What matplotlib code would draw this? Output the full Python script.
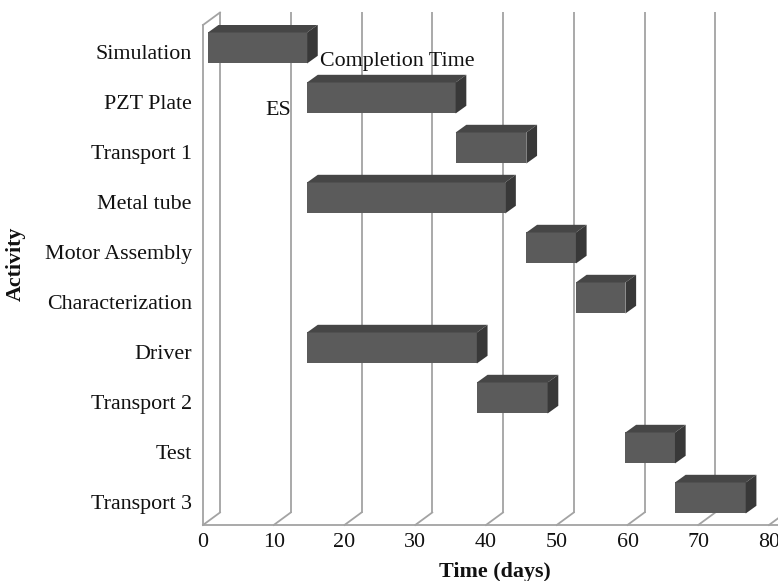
import matplotlib
matplotlib.use("Agg")
import matplotlib.pyplot as plt
from matplotlib.patches import Polygon

plt.rcParams['font.family'] = ['Liberation Serif', 'DejaVu Serif']

# Activities (top to bottom) with start and finish times in days
activities = ["Simulation", "PZT Plate", "Transport 1", "Metal tube", "Motor Assembly",
              "Characterization", "Driver", "Transport 2", "Test", "Transport 3"]
start_days = [0, 14, 35, 14, 45, 52, 14, 38, 59, 66]
finish_days = [14, 35, 45, 42, 52, 59, 38, 48, 66, 76]
x_ticks = [0, 10, 20, 30, 40, 50, 60, 70, 80]

FIG_W, FIG_H, DPI = 778, 581, 100
FS = 15.8
fig = plt.figure(figsize=(FIG_W / DPI, FIG_H / DPI), dpi=DPI)
ax_left, ax_bottom, ax_w, ax_h = 203, 56, 566, 500
ax = fig.add_axes([ax_left / FIG_W, ax_bottom / FIG_H, ax_w / FIG_W, ax_h / FIG_H])

XMIN, XMAX = 0, 80
YBOT, YTOP = 9.46, -0.54
ax.set_xlim(XMIN, XMAX)
ax.set_ylim(YBOT, YTOP)
for s in ax.spines.values():
    s.set_visible(False)

# pixel -> data unit conversion for the pseudo-3D depth offsets
px_x = ax_w / (XMAX - XMIN)
px_y = ax_h / (YBOT - YTOP)


def depth(dx_px, dy_px):
    return dx_px / px_x, -dy_px / px_y


grid_c = "#a3a3a3"
grid_lw = 1.3

# back wall depth
bdx, bdy = depth(17, 12.5)

# back-plane vertical gridlines and the slanted floor lines
for v in x_ticks:
    ax.plot([v + bdx, v + bdx], [YBOT + bdy, YTOP + bdy], color=grid_c, lw=grid_lw,
            clip_on=False, zorder=1, solid_capstyle='butt')
    ax.plot([v, v + bdx], [YBOT, YBOT + bdy], color=grid_c, lw=grid_lw,
            clip_on=False, zorder=1)

# left side wall (front edge + top edge)
ax.plot([XMIN, XMIN], [YBOT, YTOP], color=grid_c, lw=grid_lw, clip_on=False, zorder=1)
ax.plot([XMIN, XMIN + bdx], [YTOP, YTOP + bdy], color=grid_c, lw=grid_lw,
        clip_on=False, zorder=1)
# floor front edge
ax.plot([XMIN, XMAX + 2], [YBOT, YBOT], color=grid_c, lw=grid_lw, clip_on=False, zorder=1)

# 3D bars
fdx, fdy = depth(5, 4)        # front face position inside the box
ddx, ddy = depth(10.7, 7.7)   # bar depth
bar_h = 31 / px_y

front_c = "#5b5b5b"
top_c = "#464646"
side_c = "#383838"

for i, (s, e) in enumerate(zip(start_days, finish_days)):
    x0, x1 = s + fdx, e + fdx
    yc = i + fdy
    top, bot = yc - bar_h / 2, yc + bar_h / 2
    ax.add_patch(Polygon([(x0, top), (x1, top), (x1, bot), (x0, bot)],
                         closed=True, fc=front_c, ec='none', zorder=3))
    ax.add_patch(Polygon([(x0, top), (x1, top), (x1 + ddx, top + ddy), (x0 + ddx, top + ddy)],
                         closed=True, fc=top_c, ec='none', zorder=3))
    ax.add_patch(Polygon([(x1, top), (x1, bot), (x1 + ddx, bot + ddy), (x1 + ddx, top + ddy)],
                         closed=True, fc=side_c, ec='none', zorder=3))

# ticks and labels
ax.set_xticks(x_ticks)
ax.set_xticklabels([str(t) for t in x_ticks], fontsize=FS)
ax.set_yticks(range(len(activities)))
ax.set_yticklabels(activities, fontsize=FS)
ax.tick_params(axis='both', length=0, colors='#111111')
ax.tick_params(axis='x', pad=6)
ax.tick_params(axis='y', pad=8)

fig.text(495 / FIG_W, 4 / FIG_H, "Time (days)", fontsize=FS, fontweight='bold',
         ha='center', va='baseline', color='#111111')
fig.text(16 / FIG_W, (FIG_H - 264) / FIG_H, "Activity", fontsize=FS, fontweight='bold',
         rotation=90, ha='center', va='center', color='#111111')

# annotations
ax.text(16.5, 0.28, "Completion Time", fontsize=FS, ha='left', va='baseline',
        color='#111111', zorder=4)
ax.text(12.4, 1.27, "ES", fontsize=FS, ha='right', va='baseline',
        color='#111111', zorder=4)

fig.savefig("out.png", dpi=DPI)
